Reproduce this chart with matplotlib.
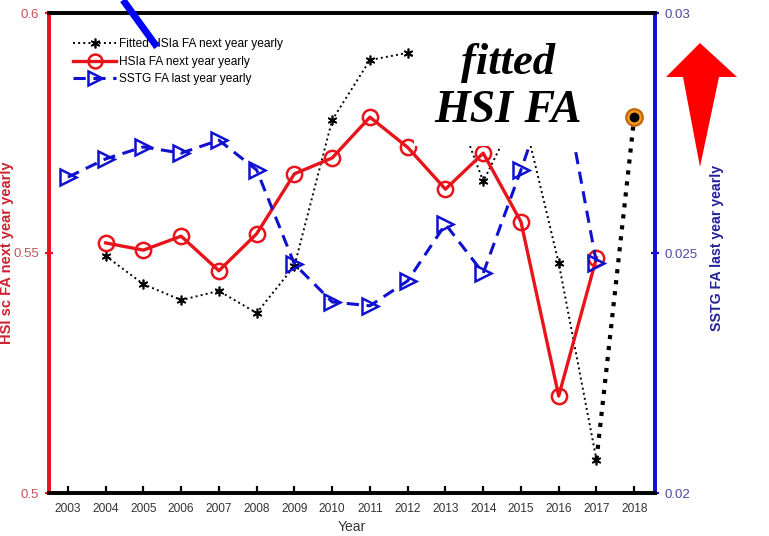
import matplotlib
matplotlib.use("Agg")
import matplotlib.pyplot as plt
from matplotlib.patches import Polygon, Rectangle
from matplotlib.lines import Line2D
from matplotlib.ticker import FixedLocator, FixedFormatter

# ---- data -------------------------------------------------------------
year_ticks = list(range(2003, 2019))

fitted_years = list(range(2004, 2019))
fitted_hsia = [0.5494, 0.5435, 0.5402, 0.5421, 0.5375, 0.5473, 0.5777, 0.5902,
               0.5917, 0.5860, 0.5649, 0.5808, 0.5479, 0.5069, 0.5783]

hsia_years = list(range(2004, 2018))
hsia_fa = [0.5521, 0.5506, 0.5535, 0.5463, 0.5540, 0.5665, 0.5698, 0.5783,
           0.5720, 0.5633, 0.5708, 0.5565, 0.5202, 0.5490]

sstg_years = list(range(2003, 2018))
sstg_fa = [0.02658, 0.02696, 0.02721, 0.02708, 0.02735, 0.02673, 0.02477,
           0.02398, 0.02390, 0.02442, 0.02560, 0.02458, 0.02673, 0.02900,
           0.02479]

left_ticks = [0.5, 0.55, 0.6]
left_labels = ["0.5", "0.55", "0.6"]
right_ticks = [0.02, 0.025, 0.03]
right_labels = ["0.02", "0.025", "0.03"]

# ---- style --------------------------------------------------------------
plt.rcParams["font.family"] = ["Liberation Sans", "DejaVu Sans"]
RED = "#e8141c"
BLUE = "#1010d0"
W, H = 769, 536
fig = plt.figure(figsize=(W / 100, H / 100), dpi=100)
fig.patch.set_facecolor("white")

ax = fig.add_axes([49 / W, 1 - 493 / H, (655 - 49) / W, (493 - 13) / H])
ax2 = ax.twinx()

star = (6, 2, 0)

# fitted series, last segment emphasised
ax.plot(fitted_years[:-1], fitted_hsia[:-1], ls=":", color="black", lw=1.4,
        marker=star, ms=7, mew=1.2, zorder=3)
ax.plot(fitted_years[-2:], fitted_hsia[-2:], ls=":", color="black", lw=3.0,
        zorder=3)
ax.plot(fitted_years[-1:], fitted_hsia[-1:], ls="none", marker="o", ms=12,
        mfc="#f39a1c", mec="#c4620a", mew=1.5, zorder=4)
ax.plot(fitted_years[-1:], fitted_hsia[-1:], ls="none", marker="o", ms=6,
        mfc="black", mec="black", zorder=5)

ax.plot(hsia_years, hsia_fa, ls="-", color=RED, lw=2.4, marker="o", ms=11,
        mfc="none", mec=RED, mew=1.8, zorder=4)

ax2.plot(sstg_years, sstg_fa, ls=(0, (4, 2.5)), color=BLUE, lw=2.2, marker=">",
         ms=11, mfc="none", mec=BLUE, mew=1.8, zorder=4)

# ---- axes ---------------------------------------------------------------
ax.set_xlim(2002.5, 2018.55)
ax.set_ylim(0.5, 0.6)
ax2.set_ylim(0.02, 0.03)

ax.xaxis.set_major_locator(FixedLocator(year_ticks))
ax.set_xticklabels([str(y) for y in year_ticks], fontsize=8.6, color="#333333")
ax.tick_params(axis="x", direction="in", length=5, width=1.6, color="black",
               pad=7)

ax.yaxis.set_major_locator(FixedLocator(left_ticks))
ax.yaxis.set_major_formatter(FixedFormatter(left_labels))
ax.tick_params(axis="y", direction="inout", length=6, width=1.6, color=RED,
               labelcolor="#c8505a", labelsize=9.5, pad=4)

ax2.yaxis.set_major_locator(FixedLocator(right_ticks))
ax2.yaxis.set_major_formatter(FixedFormatter(right_labels))
ax2.tick_params(axis="y", direction="inout", length=6, width=1.6, color=BLUE,
                labelcolor="#4a4a9a", labelsize=9.5, pad=4)

for a in (ax, ax2):
    a.spines["left"].set_color(RED)
    a.spines["right"].set_color(BLUE)
    a.spines["top"].set_color("black")
    a.spines["bottom"].set_color("black")
    for s in a.spines.values():
        s.set_linewidth(2.6)

ax.set_xlabel("Year", fontsize=10, color="#333333", labelpad=4)
ax.set_ylabel("HSI sc FA next year yearly", fontsize=10.5, color="#cc2233",
              fontweight="bold")
ax.yaxis.set_label_coords(-0.057, 0.5)
ax2.set_ylabel("SSTG FA last year yearly", fontsize=10.2, color="#22229a",
               fontweight="bold")
ax2.yaxis.set_label_coords(1.09, 0.51)

# ---- legend -------------------------------------------------------------
handles = [
    Line2D([], [], ls=":", color="black", lw=1.4, marker=star, ms=7, mew=1.2),
    Line2D([], [], ls="-", color=RED, lw=2.4, marker="o", ms=10, mfc="none",
           mec=RED, mew=1.8),
    Line2D([], [], ls=(0, (4, 2.5)), color=BLUE, lw=2.2, marker=">", ms=10,
           mfc="none", mec=BLUE, mew=1.8),
]
labels = ["Fitted HSIa FA next year yearly", "HSIa FA next year yearly",
          "SSTG FA last year yearly"]
leg = ax2.legend(handles, labels, loc="upper left",
                 bbox_to_anchor=(0.04, 0.947), frameon=False, fontsize=8.6,
                 handlelength=3.6, handletextpad=0.25, labelspacing=0.45,
                 borderaxespad=0, borderpad=0)
leg.set_zorder(6)

# ---- annotation box -----------------------------------------------------
ax2.add_patch(Rectangle((0.602, 0.722), 0.31, 0.274, transform=ax2.transAxes,
                        facecolor="white", edgecolor="none", zorder=10))
ax2.text(0.757, 0.895, "fitted", transform=ax2.transAxes, ha="center",
         va="center", fontsize=32, fontweight="bold", fontstyle="italic",
         family="Liberation Serif", color="black", zorder=11)
ax2.text(0.757, 0.795, "HSI FA", transform=ax2.transAxes, ha="center",
         va="center", fontsize=33, fontweight="bold", fontstyle="italic",
         family="Liberation Serif", color="black", zorder=11)

# ---- pointer line and arrow --------------------------------------------
fig.add_artist(Line2D([123 / W, 157 / W], [1.0, 1 - 47 / H],
                      transform=fig.transFigure, color="#0000ff", lw=5,
                      solid_capstyle="butt", zorder=20))

arrow_px = [(700, 43), (737, 77), (719, 77), (700, 167), (683, 77), (666, 77)]
fig.add_artist(Polygon([(x / W, 1 - y / H) for x, y in arrow_px], closed=True,
                       transform=fig.transFigure, facecolor="#ff0000",
                       edgecolor="none", zorder=20))

fig.savefig("out.png", dpi=100, facecolor="white")
